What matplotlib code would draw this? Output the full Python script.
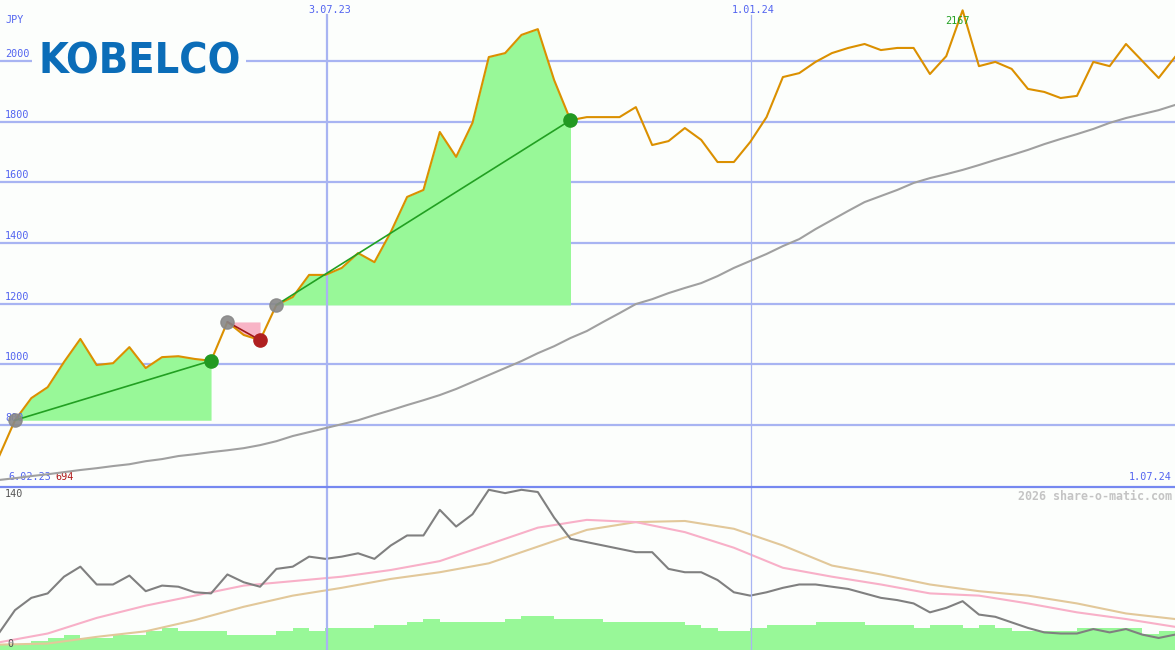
import numpy as np
import matplotlib.pyplot as plt
from matplotlib.transforms import blended_transform_factory

# weekly points, index -1 .. 71
weeks = np.arange(-1, 72)
price = [694, 816, 889, 925, 1008, 1084, 998, 1004, 1057, 988,
         1024, 1027, 1018, 1012, 1140, 1097, 1080, 1196, 1222, 1295,
         1295, 1318, 1367, 1337, 1436, 1552, 1575, 1766, 1684, 1796,
         2013, 2026, 2086, 2105, 1937, 1805, 1815, 1815, 1815, 1848,
         1723, 1736, 1779, 1740, 1667, 1667, 1733, 1815, 1947, 1960,
         1997, 2026, 2043, 2056, 2036, 2043, 2043, 1957, 2016, 2167,
         1983, 1997, 1974, 1908, 1898, 1878, 1885, 1997, 1983, 2056,
         2000, 1944, 2013]
ma = [619, 625, 632, 638, 645, 652, 658, 665, 671, 681,
      688, 698, 704, 711, 717, 724, 734, 747, 764, 777,
      790, 803, 816, 833, 849, 866, 882, 899, 919, 942,
      965, 988, 1011, 1037, 1060, 1087, 1110, 1140, 1169, 1199,
      1215, 1235, 1252, 1268, 1291, 1318, 1341, 1364, 1390, 1413,
      1446, 1476, 1506, 1535, 1555, 1575, 1598, 1614, 1627, 1641,
      1657, 1674, 1690, 1707, 1726, 1743, 1759, 1776, 1796, 1812,
      1825, 1838, 1855]

# trend signals (start week, end week)
sig_start = [0, 13, 16]
sig_end = [12, 15, 34]

# lower panel
osc = [13, 34, 45, 49, 64, 73, 57, 57, 65, 51,
       56, 55, 50, 49, 66, 59, 55, 71, 73, 82,
       80, 82, 85, 80, 92, 101, 101, 124, 109, 120,
       142, 139, 142, 140, 117, 98, 95, 92, 89, 86,
       86, 71, 68, 68, 61, 50, 47, 50, 54, 57,
       57, 55, 53, 49, 45, 43, 40, 32, 36, 42,
       30, 28, 23, 18, 14, 13, 13, 17, 14, 17,
       12, 9, 12]
slow_weeks = np.arange(-1, 72, 3)
pink = [5, 13, 27, 38, 47, 56, 60, 64, 70, 78, 93, 108, 115,
        113, 104, 90, 72, 64, 57, 49, 47, 40, 32, 26, 19]
tan = [3, 4, 10, 15, 25, 37, 47, 54, 62, 68, 76, 91, 106,
       113, 114, 107, 92, 74, 66, 57, 51, 47, 40, 31, 26]
vol_weeks = np.arange(-1, 71)
volume = [5, 5, 9, 12, 15, 12, 12, 15, 15, 19, 22, 19, 19, 19, 15, 15, 15, 19,
          22, 19, 22, 22, 22, 25, 25, 28, 31, 28, 28, 28, 28, 31, 34, 34, 31, 31,
          31, 28, 28, 28, 28, 28, 25, 22, 19, 19, 22, 25, 25, 25, 28, 28, 28, 25,
          25, 25, 22, 25, 25, 22, 25, 22, 19, 19, 19, 19, 22, 22, 22, 22, 16, 19]

grid_levels = [800, 1000, 1200, 1400, 1600, 1800, 2000]
date_lines = [19.1, 45.05]
date_labels = ['3.07.23', '1.01.24']

bg = '#fcfefc'
grid_c = '#a8b4f2'
text_c = '#5264f0'
mono = 'DejaVu Sans Mono'
fs = 7.3

fig = plt.figure(figsize=(11.75, 6.5), dpi=100, facecolor=bg)
ax = fig.add_axes([0, 163 / 650, 1, 487 / 650])
ax2 = fig.add_axes([0, 0, 1, 163 / 650])
for a in (ax, ax2):
    a.set_facecolor(bg)
    a.set_xlim(-0.918, 71)
    a.set_xticks([])
    a.set_yticks([])
    for s in a.spines.values():
        s.set_visible(False)
ax.set_ylim(596, 2201)
ax2.set_ylim(-1.8, 144.5)

# upper panel
left_tr = blended_transform_factory(ax.transAxes, ax.transData)
for lvl in grid_levels:
    ax.axhline(lvl, color=grid_c, lw=1.6, zorder=1)
    ax.text(5 / 1175, lvl + 7, str(lvl), transform=left_tr,
            fontsize=fs, family=mono, color=text_c, va='bottom', zorder=6)
ax.axvline(date_lines[0], ymax=(487 - 15) / 487, color=grid_c, lw=1.6, zorder=3)
ax.axvline(date_lines[1], ymax=(487 - 15) / 487, color=grid_c, lw=0.9, zorder=3)
ax2.axvline(date_lines[0], color=grid_c, lw=1.6, zorder=3)
ax2.axvline(date_lines[1], color=grid_c, lw=0.9, zorder=3)
for xd, lab in zip(date_lines, date_labels):
    ax.text(xd + 0.15, 2186, lab, fontsize=fs, family=mono, color=text_c, ha='center', va='top')

price = np.array(price)
for s, e in zip(sig_start, sig_end):
    idx = np.arange(s, e + 1) + 1
    up = price[e + 1] >= price[s + 1]
    ax.fill_between(weeks[idx], price[idx], price[s + 1], color='#98f898' if up else '#f8b4c6',
                    lw=0, zorder=2)
ax.plot(weeks, ma, color='#a0a0a0', lw=1.5, zorder=4)
ax.plot(weeks, price, color='#db9000', lw=1.5, zorder=5)
for s, e in zip(sig_start, sig_end):
    up = price[e + 1] >= price[s + 1]
    ax.plot([s, e], [price[s + 1], price[e + 1]], color='#22a022' if up else '#a01818', lw=1.2, zorder=6)
    ax.plot(s, price[s + 1], 'o', ms=9.5, color='#888888', alpha=0.9, zorder=7)
    ax.plot(e, price[e + 1], 'o', ms=9.5, color='#229922' if up else '#b02020', zorder=7)

ax.text(5 / 1175, 1 - 20 / 487, 'JPY', transform=ax.transAxes, fontsize=fs, family=mono, color=text_c, va='center')
imax = int(np.argmax(price))
ax.text(weeks[imax] - 0.3, price[imax] - 18, str(price.max()), fontsize=fs, family=mono, color='#22a022',
        ha='center', va='top', zorder=8)
ax.text(8 / 1175, 5 / 487, '6.02.23', transform=ax.transAxes, fontsize=fs, family=mono, color=text_c, va='bottom')
ax.text(55 / 1175, 5 / 487, str(price.min()), transform=ax.transAxes, fontsize=fs, family=mono, color='#b01818',
        va='bottom')
ax.text(1 - 3 / 1175, 5 / 487, '1.07.24', transform=ax.transAxes, fontsize=fs, family=mono, color=text_c,
        ha='right', va='bottom')

fig.text(38 / 1175, 1 - 74 / 650, 'KOBELCO', fontsize=31, fontweight='bold', fontstretch='condensed',
         family='DejaVu Sans', color='#0b6db8', va='baseline',
         bbox=dict(fc=bg, ec='none', pad=4))

# lower panel
axv = ax2.twinx()
axv.set_ylim(0, 163)
axv.set_xlim(-0.918, 71)
axv.axis('off')
axv.bar(vol_weeks, volume, width=1.0, align='edge', color='#98f898', lw=0, zorder=1)
ax2.set_zorder(axv.get_zorder() + 1)
ax2.patch.set_visible(False)
axv.patch.set_facecolor(bg)
ax2.plot(slow_weeks, tan, color='#e2c89a', lw=1.5)
ax2.plot(slow_weeks, pink, color='#f8b0c8', lw=1.5)
ax2.plot(weeks, osc, color='#808080', lw=1.5)
low_tr = blended_transform_factory(ax2.transAxes, ax2.transData)
ax2.text(5 / 1175, 138, '140', transform=low_tr, fontsize=fs, family=mono, color='#555555', va='center')
ax2.text(7 / 1175, 4, '0', transform=low_tr, fontsize=fs, family=mono, color='#555555', va='center')
ax2.text(1 - 3 / 1175, 1 - 9 / 163, '2026 share-o-matic.com', transform=ax2.transAxes, fontsize=8.4,
         family=mono, fontweight='bold', color='#c4c4c4', ha='right', va='center')

fig.add_artist(plt.Line2D([0, 1], [163 / 650, 163 / 650], transform=fig.transFigure, color='#7688f0', lw=1.6))

plt.savefig('out.png', dpi=100, facecolor=bg)
